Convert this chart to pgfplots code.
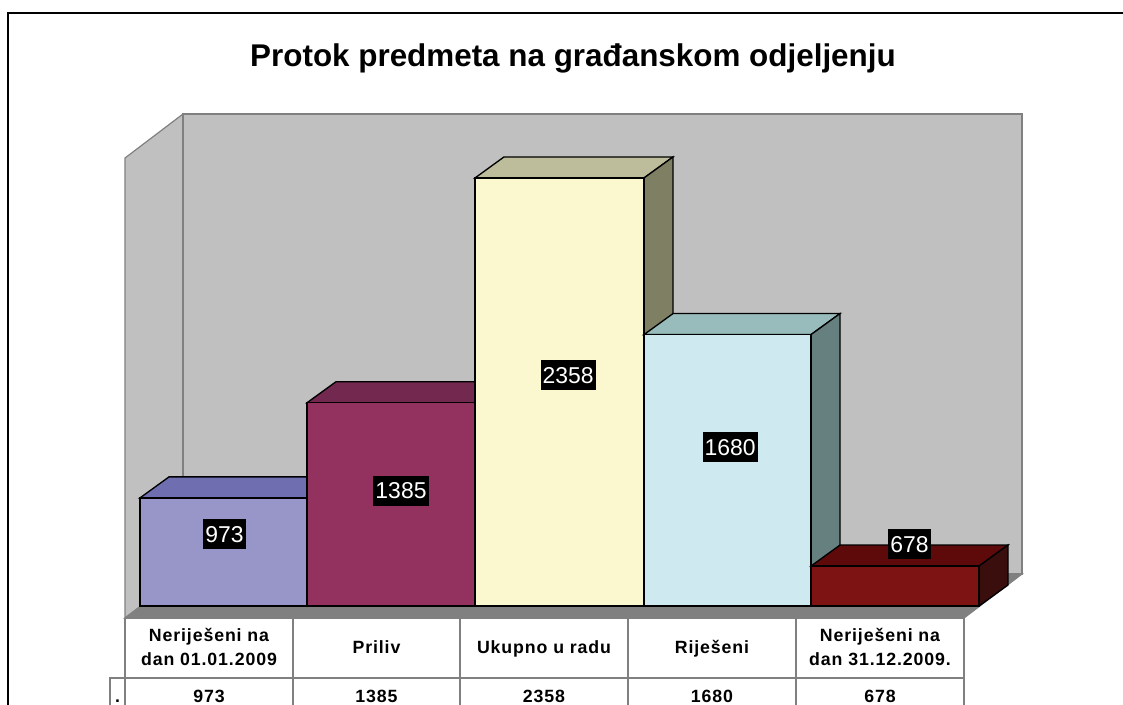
\documentclass[border=0pt]{standalone}
\usepackage{pgfplots}
\pgfplotsset{compat=1.18}
\usepackage{fontspec}
\setmainfont{Liberation Sans}
\newfontfamily\tabfont[LetterSpace=5]{Liberation Sans}
\definecolor{wall}{HTML}{C0C0C0}
\definecolor{edge}{HTML}{808080}
\definecolor{aF}{HTML}{9896C9}\definecolor{aT}{HTML}{6E6EB0}
\definecolor{bF}{HTML}{93315F}\definecolor{bT}{HTML}{72284F}
\definecolor{cF}{HTML}{FBF7CF}\definecolor{cT}{HTML}{BDBD9B}\definecolor{cS}{HTML}{7F7F63}
\definecolor{dF}{HTML}{CEEAF0}\definecolor{dT}{HTML}{98BCBC}\definecolor{dS}{HTML}{667F7F}
\definecolor{eF}{HTML}{7D1313}\definecolor{eT}{HTML}{5E0A0A}\definecolor{eS}{HTML}{3B0E0E}
\tikzset{
  tab/.style={font=\tabfont\bfseries\fontsize{13.3pt}{15pt}\selectfont,text=black,inner sep=0pt,anchor=base},
  val/.style={fill=black,text=white,inner xsep=1.5pt,inner ysep=0pt,text height=17.25pt,text depth=5.25pt,font=\fontsize{17.2pt}{18pt}\selectfont,anchor=center}
}
\begin{document}
\begin{tikzpicture}
\useasboundingbox (0,0) rectangle (842.25pt,528pt);
% pixel-space axis: frame, walls, floor, table
\begin{axis}[at={(0pt,528pt)},anchor=north west,scale only axis,width=842.25pt,height=528pt,
  xmin=0,xmax=1123,ymin=0,ymax=704,y dir=reverse,hide axis,clip=true]
\addplot[draw=black,line width=1.1pt] coordinates {(8,730)(8,13)(1140,13)};
\addplot[fill=wall,draw=edge,line width=0.9pt] coordinates {(125,158)(183,114)(183,574)(125,618)} --cycle;
\addplot[fill=wall,draw=edge,line width=0.9pt] coordinates {(183,114)(1022,114)(1022,574)(183,574)} --cycle;
\addplot[fill=edge,draw=edge,line width=0.9pt] coordinates {(125,618)(183,574)(1022,574)(964,618)} --cycle;
\addplot[draw=edge,line width=0.9pt] coordinates {(125,618)(964,618)(964,730)};
\addplot[draw=edge,line width=0.9pt] coordinates {(125,618)(125,730)};
\addplot[draw=edge,line width=0.9pt] coordinates {(293,618)(293,730)};
\addplot[draw=edge,line width=0.9pt] coordinates {(460,618)(460,730)};
\addplot[draw=edge,line width=0.9pt] coordinates {(628,618)(628,730)};
\addplot[draw=edge,line width=0.9pt] coordinates {(796,618)(796,730)};
\addplot[draw=edge,line width=0.9pt] coordinates {(110,730)(110,678)(964,678)};
\node[font=\bfseries\fontsize{23.55pt}{26pt}\selectfont,anchor=base] at (axis cs:573,66) {Protok predmeta na građanskom odjeljenju};
\node[tab] at (axis cs:209,641) {Neriješeni na};
\node[tab] at (axis cs:209,665.7) {dan 01.01.2009};
\node[tab] at (axis cs:376.5,653) {Priliv};
\node[tab] at (axis cs:544,653) {Ukupno u radu};
\node[tab] at (axis cs:712,653) {Riješeni};
\node[tab] at (axis cs:880,641) {Neriješeni na};
\node[tab] at (axis cs:880,665.7) {dan 31.12.2009.};
\node[tab] at (axis cs:209,702.5) {973};
\node[tab] at (axis cs:376.5,702.5) {1385};
\node[tab] at (axis cs:544,702.5) {2358};
\node[tab] at (axis cs:712,702.5) {1680};
\node[tab] at (axis cs:880,702.5) {678};
\node[tab] at (axis cs:117.5,702.5) {.};
\end{axis}
% value axis: 0.231 px per case, depth 29 px and 91 cases
\begin{axis}[at={(0pt,528pt)},anchor=north west,scale only axis,width=842.25pt,height=455.03pt,
  xmin=0,xmax=1123,ymin=502,ymax=3128.4,hide axis,clip=true]
% bar 1
\addplot[fill=aT,draw=black,line width=1pt] coordinates {(140,973)(169,1064)(336,1064)(307,973)} --cycle;
\addplot[ybar,bar width=125.25pt,bar shift=0pt,fill=aF,draw=black,line width=1pt] coordinates {(223.5,973)};
% bar 2
\addplot[fill=bT,draw=black,line width=1pt] coordinates {(307,1385)(336,1476)(504,1476)(475,1385)} --cycle;
\addplot[ybar,bar width=126pt,bar shift=0pt,fill=bF,draw=black,line width=1pt] coordinates {(391,1385)};
% bar 3
\addplot[fill=cT,draw=black,line width=1pt] coordinates {(475,2358)(504,2449)(673,2449)(644,2358)} --cycle;
\addplot[fill=cS,draw=black,line width=1pt] coordinates {(644,2358)(673,2449)(673,596)(644,505)} --cycle;
\addplot[ybar,bar width=126.75pt,bar shift=0pt,fill=cF,draw=black,line width=1pt] coordinates {(559.5,2358)};
% bar 4
\addplot[fill=dT,draw=black,line width=1pt] coordinates {(644,1680)(673,1771)(840,1771)(811,1680)} --cycle;
\addplot[fill=dS,draw=black,line width=1pt] coordinates {(811,1680)(840,1771)(840,596)(811,505)} --cycle;
\addplot[ybar,bar width=125.25pt,bar shift=0pt,fill=dF,draw=black,line width=1pt] coordinates {(727.5,1680)};
% bar 5
\addplot[fill=eT,draw=black,line width=1pt] coordinates {(811,678)(840,769)(1008,769)(979,678)} --cycle;
\addplot[fill=eS,draw=black,line width=1pt] coordinates {(979,678)(1008,769)(1008,596)(979,505)} --cycle;
\addplot[ybar,bar width=126pt,bar shift=0pt,fill=eF,draw=black,line width=1pt] coordinates {(895,678)};
\addplot[draw=black,line width=1pt] coordinates {(140,505)(979,505)};
\node[val] at (axis cs:224.5,816.7) {973};
\node[val] at (axis cs:401,1003) {1385};
\node[val] at (axis cs:568,1505) {2358};
\node[val] at (axis cs:730,1193) {1680};
\node[val] at (axis cs:909.5,773) {678};
\end{axis}
\end{tikzpicture}
\end{document}
